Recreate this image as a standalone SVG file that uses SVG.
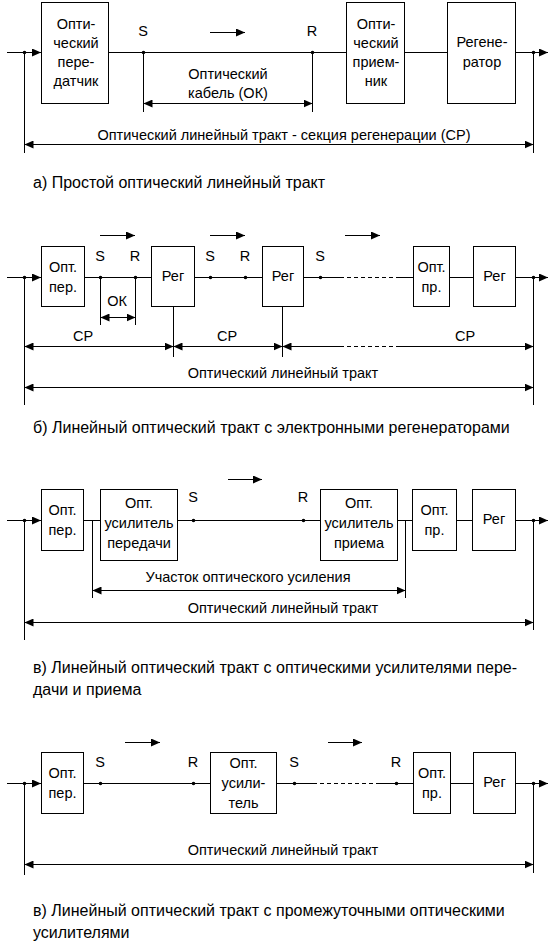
<svg xmlns="http://www.w3.org/2000/svg" width="555" height="947" viewBox="0 0 555 947">
<style>
.ln{stroke:#000;stroke-width:1;fill:none}
.ds{stroke:#000;stroke-width:1;fill:none;stroke-dasharray:4 3}
.bx{fill:#fff;stroke:#000;stroke-width:1}
.dt{fill:#000}
text{font-family:"Liberation Sans",Arial,sans-serif;font-size:14.5px;fill:#000}
.m{text-anchor:middle}
.cap{font-size:16px}
.ae{marker-end:url(#ah)}
.ab{marker-start:url(#ah);marker-end:url(#ah)}
.as{marker-start:url(#ah)}
</style>
<defs>
<marker id="ah" viewBox="0 0 9 8" refX="9" refY="4" markerWidth="9" markerHeight="8" markerUnits="userSpaceOnUse" orient="auto-start-reverse"><path d="M0,0 L9,4 L0,8 z" fill="#000"/></marker>
</defs>
<rect width="555" height="947" fill="#fff"/>

<!-- ===== Section A ===== -->
<g id="a_tx"><rect class="bx" x="41.5" y="2.5" width="67" height="101"/>
<text class="m" x="76" y="29">Опти-</text><text class="m" x="76" y="48">ческий</text><text class="m" x="76" y="67">пере-</text><text class="m" x="76" y="86">датчик</text></g>
<g id="a_rx"><rect class="bx" x="346.5" y="2.5" width="58" height="101"/>
<text class="m" x="376" y="29">Опти-</text><text class="m" x="376" y="48">ческий</text><text class="m" x="376" y="67">прием-</text><text class="m" x="376" y="86">ник</text></g>
<g id="a_reg"><rect class="bx" x="447.5" y="2.5" width="68" height="101"/>
<text class="m" x="482" y="47">Регене-</text><text class="m" x="482" y="67">ратор</text></g>
<g id="a_conn">
<path class="ln ae" d="M7,52.5 H41"/>
<path class="ln" d="M108.5,52.5 H346.5 M404.5,52.5 H447.5"/>
<path class="ln ae" d="M515.5,52.5 H548"/>
<path class="ln" d="M24.5,52.5 V153 M143.5,52.5 V112 M312.5,52.5 V112 M533.5,52.5 V153"/>
<path class="ln ab" d="M143.5,103.5 H312.5"/>
<path class="ln ab" d="M24.5,144.5 H533.5"/>
<path class="ln ae" d="M210,32.5 H245"/>
<circle class="dt" cx="24.5" cy="52.5" r="1.8"/><circle class="dt" cx="143.5" cy="52.5" r="1.8"/><circle class="dt" cx="312.5" cy="52.5" r="1.8"/><circle class="dt" cx="533.5" cy="52.5" r="1.8"/>
</g>
<g id="a_labels">
<text class="m" x="143" y="36">S</text><text class="m" x="312" y="36">R</text>
<text class="m" x="228" y="79">Оптический</text><text class="m" x="228" y="98">кабель (ОК)</text>
<text class="m" x="284" y="140">Оптический линейный тракт - секция регенерации (СР)</text>
<text class="cap" x="33" y="188">а) Простой оптический линейный тракт</text>
</g>

<!-- ===== Section B ===== -->
<g id="b_tx"><rect class="bx" x="41.5" y="246.5" width="43" height="60"/>
<text class="m" x="63" y="272">Опт.</text><text class="m" x="63" y="292">пер.</text></g>
<g id="b_reg1"><rect class="bx" x="151.5" y="246.5" width="43" height="60"/>
<text class="m" x="173" y="281">Рег</text></g>
<g id="b_reg2"><rect class="bx" x="262.5" y="246.5" width="41" height="60"/>
<text class="m" x="283" y="281">Рег</text></g>
<g id="b_rx"><rect class="bx" x="413.5" y="246.5" width="36" height="60"/>
<text class="m" x="431.5" y="272">Опт.</text><text class="m" x="431.5" y="292">пр.</text></g>
<g id="b_reg3"><rect class="bx" x="473.5" y="246.5" width="42" height="60"/>
<text class="m" x="494.5" y="281">Рег</text></g>
<g id="b_conn">
<path class="ln ae" d="M7,277.5 H41"/>
<path class="ln" d="M84.5,277.5 H151.5 M194.5,277.5 H262.5 M303.5,277.5 H340 M398,277.5 H413.5 M449.5,277.5 H473.5"/>
<path class="ds" d="M340,277.5 H398"/>
<path class="ln ae" d="M515.5,277.5 H548"/>
<path class="ln" d="M24.5,277.5 V405 M100.5,277.5 V325 M135.5,277.5 V325 M173.5,306.5 V357 M282.5,306.5 V357 M533.5,277.5 V405"/>
<path class="ln ab" d="M100.5,317.5 H135.5"/>
<path class="ln ab" d="M24.5,346.5 H173.5"/>
<path class="ln ab" d="M173.5,346.5 H282.5"/>
<path class="ln as" d="M282.5,346.5 H340"/>
<path class="ds" d="M340,346.5 H398"/>
<path class="ln ae" d="M398,346.5 H533.5"/>
<path class="ln ab" d="M24.5,387.5 H533.5"/>
<path class="ln ae" d="M100,235.5 H135"/>
<path class="ln ae" d="M210,235.5 H245"/>
<path class="ln ae" d="M345,235.5 H380"/>
<circle class="dt" cx="24.5" cy="277.5" r="1.8"/><circle class="dt" cx="100.5" cy="277.5" r="1.8"/><circle class="dt" cx="135.5" cy="277.5" r="1.8"/><circle class="dt" cx="210.5" cy="277.5" r="1.8"/><circle class="dt" cx="245.5" cy="277.5" r="1.8"/><circle class="dt" cx="320.5" cy="277.5" r="1.8"/><circle class="dt" cx="533.5" cy="277.5" r="1.8"/>
</g>
<g id="b_labels">
<text class="m" x="100" y="261">S</text><text class="m" x="135" y="261">R</text><text class="m" x="210" y="261">S</text><text class="m" x="245" y="261">R</text><text class="m" x="320" y="261">S</text>
<text class="m" x="117" y="306">ОК</text>
<text class="m" x="83" y="341">СР</text><text class="m" x="227" y="341">СР</text><text class="m" x="465" y="341">СР</text>
<text class="m" x="283" y="378">Оптический линейный тракт</text>
<text class="cap" x="33" y="433">б) Линейный оптический тракт с электронными регенераторами</text>
</g>

<!-- ===== Section C ===== -->
<g id="c_tx"><rect class="bx" x="41.5" y="489.5" width="42" height="61"/>
<text class="m" x="62.5" y="515">Опт.</text><text class="m" x="62.5" y="535">пер.</text></g>
<g id="c_amp1"><rect class="bx" x="100.5" y="489.5" width="77" height="71"/>
<text class="m" x="139" y="508">Опт.</text><text class="m" x="139" y="528">усилитель</text><text class="m" x="139" y="548">передачи</text></g>
<g id="c_amp2"><rect class="bx" x="320.5" y="489.5" width="77" height="71"/>
<text class="m" x="359" y="508">Опт.</text><text class="m" x="359" y="528">усилитель</text><text class="m" x="359" y="548">приема</text></g>
<g id="c_rx"><rect class="bx" x="412.5" y="489.5" width="44" height="61"/>
<text class="m" x="434.5" y="515">Опт.</text><text class="m" x="434.5" y="535">пр.</text></g>
<g id="c_reg"><rect class="bx" x="472.5" y="489.5" width="43" height="61"/>
<text class="m" x="494" y="524">Рег</text></g>
<g id="c_conn">
<path class="ln ae" d="M7,520.5 H41"/>
<path class="ln" d="M83.5,520.5 H100.5 M177.5,520.5 H320.5 M397.5,520.5 H412.5 M456.5,520.5 H472.5"/>
<path class="ln ae" d="M515.5,520.5 H548"/>
<path class="ln" d="M24.5,520.5 V640 M92.5,520.5 V598 M405.5,520.5 V598 M533.5,520.5 V630"/>
<path class="ln ab" d="M92.5,590.5 H405.5"/>
<path class="ln ab" d="M24.5,622.5 H533.5"/>
<path class="ln ae" d="M228,479.5 H262"/>
<circle class="dt" cx="24.5" cy="520.5" r="1.8"/><circle class="dt" cx="193.5" cy="520.5" r="1.8"/><circle class="dt" cx="303.5" cy="520.5" r="1.8"/><circle class="dt" cx="533.5" cy="520.5" r="1.8"/>
</g>
<g id="c_labels">
<text class="m" x="193" y="502">S</text><text class="m" x="303" y="502">R</text>
<text class="m" x="248" y="582">Участок оптического усиления</text>
<text class="m" x="283" y="613">Оптический линейный тракт</text>
<text class="cap" x="33" y="673">в) Линейный оптический тракт с оптическими усилителями пере-</text>
<text class="cap" x="33" y="695">дачи и приема</text>
</g>

<!-- ===== Section D ===== -->
<g id="d_tx"><rect class="bx" x="41.5" y="752.5" width="42" height="61"/>
<text class="m" x="62.5" y="778">Опт.</text><text class="m" x="62.5" y="798">пер.</text></g>
<g id="d_amp"><rect class="bx" x="210.5" y="752.5" width="66" height="61"/>
<text class="m" x="243.5" y="768">Опт.</text><text class="m" x="243.5" y="788">усили-</text><text class="m" x="243.5" y="808">тель</text></g>
<g id="d_rx"><rect class="bx" x="413.5" y="752.5" width="37" height="61"/>
<text class="m" x="432" y="778">Опт.</text><text class="m" x="432" y="798">пр.</text></g>
<g id="d_reg"><rect class="bx" x="473.5" y="752.5" width="42" height="61"/>
<text class="m" x="494.5" y="787">Рег</text></g>
<g id="d_conn">
<path class="ln ae" d="M7,783.5 H41"/>
<path class="ln" d="M83.5,783.5 H210.5 M276.5,783.5 H313 M380,783.5 H413.5 M450.5,783.5 H473.5"/>
<path class="ds" d="M313,783.5 H380"/>
<path class="ln ae" d="M515.5,783.5 H548"/>
<path class="ln" d="M24.5,783.5 V875 M533.5,783.5 V873"/>
<path class="ln ab" d="M24.5,864.5 H533.5"/>
<path class="ln ae" d="M125,742.5 H160"/>
<path class="ln ae" d="M328,742.5 H362"/>
<circle class="dt" cx="24.5" cy="783.5" r="1.8"/><circle class="dt" cx="100.5" cy="783.5" r="1.8"/><circle class="dt" cx="193.5" cy="783.5" r="1.8"/><circle class="dt" cx="294.5" cy="783.5" r="1.8"/><circle class="dt" cx="396.5" cy="783.5" r="1.8"/><circle class="dt" cx="533.5" cy="783.5" r="1.8"/>
</g>
<g id="d_labels">
<text class="m" x="100" y="767">S</text><text class="m" x="193" y="767">R</text><text class="m" x="294" y="767">S</text><text class="m" x="396" y="767">R</text>
<text class="m" x="283" y="855">Оптический линейный тракт</text>
<text class="cap" x="33" y="916">в) Линейный оптический тракт с промежуточными оптическими</text>
<text class="cap" x="33" y="938">усилителями</text>
</g>
</svg>
